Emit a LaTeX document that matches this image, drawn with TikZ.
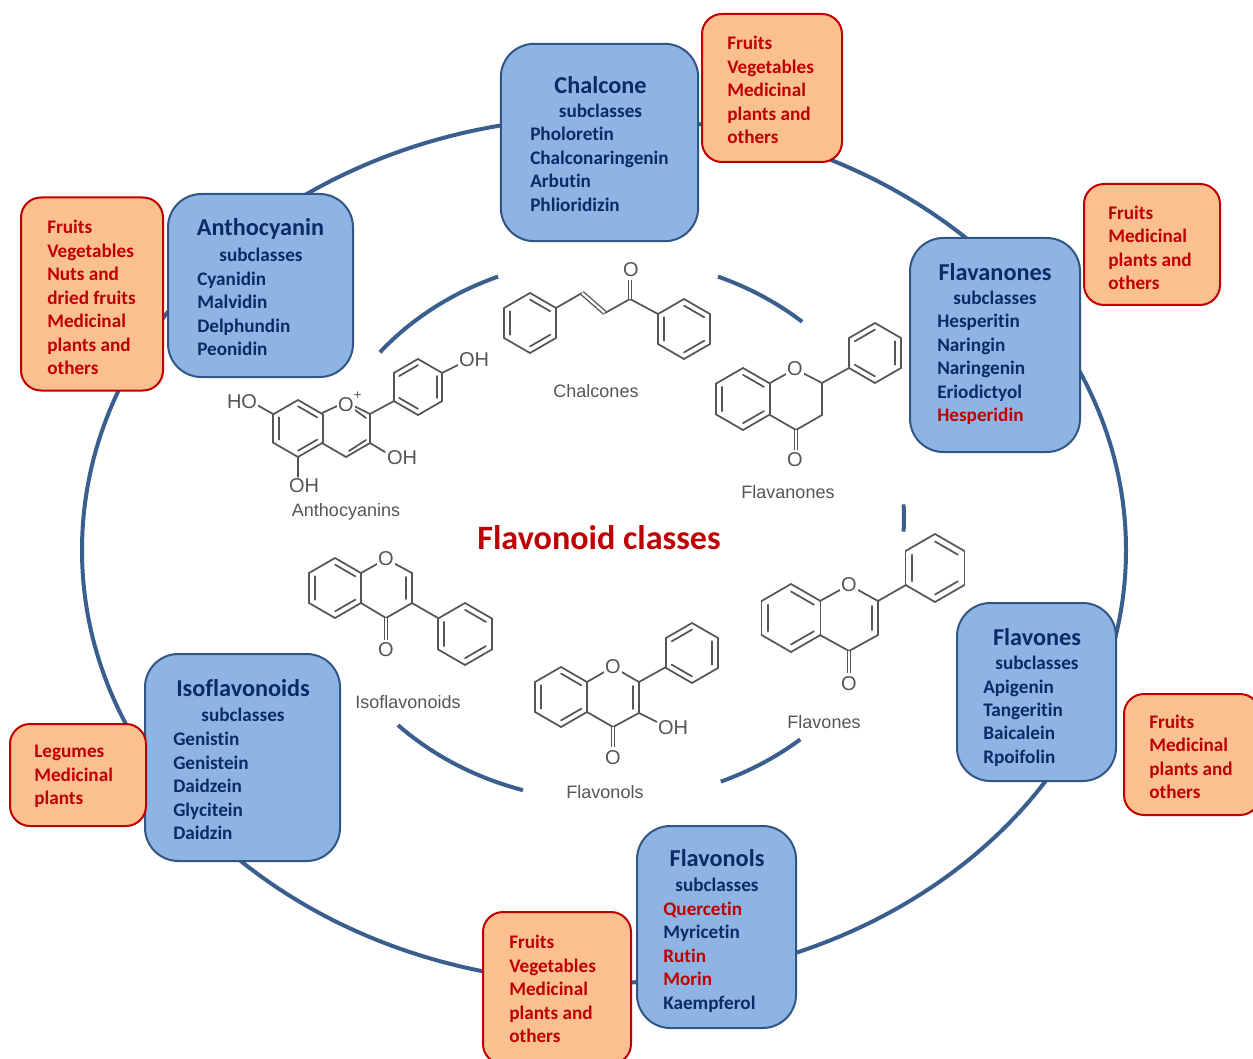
\documentclass[tikz,border=0pt]{standalone}
\usepackage{fontspec}
\setmainfont[Ligatures=NoCommon]{Carlito}
\newfontfamily\molfont{Liberation Sans}
\definecolor{ringblue}{HTML}{3A5F8F}
\definecolor{boxblue}{HTML}{8EB4E3}
\definecolor{boxedge}{HTML}{2F5685}
\definecolor{navy}{HTML}{0B2A66}
\definecolor{orangefill}{HTML}{FAC090}
\definecolor{redtxt}{HTML}{C00000}
\definecolor{molgray}{HTML}{555555}
\newcommand{\rd}[1]{\textcolor{redtxt}{#1}}
% centre x, centre y, radius, first inner edge (0 or 1)
\newcommand{\hexring}[4]{%
  \foreach \k in {0,...,5}{%
    \draw[bond] ({#1+#3*cos(30+60*\k)},{#2+#3*sin(30+60*\k)}) -- ({#1+#3*cos(90+60*\k)},{#2+#3*sin(90+60*\k)});
  }%
  \foreach \k in {0,2,4}{%
    \draw[bond] ({#1+.78*#3*cos(30+60*(\k+#4))},{#2+.78*#3*sin(30+60*(\k+#4))}) -- ({#1+.78*#3*cos(90+60*(\k+#4))},{#2+.78*#3*sin(90+60*(\k+#4))});
  }%
}
\tikzset{
  ring/.style={draw=ringblue,line width=3pt},
  bluebox/.style={draw=boxedge,fill=boxblue,line width=1.5pt,rounded corners=25pt,inner sep=0pt},
  orangebox/.style={draw=redtxt,fill=orangefill,line width=1.5pt,rounded corners=15pt,inner sep=0pt},
  boxtitle/.style={font=\fontsize{18.2}{20}\selectfont\bfseries,text=navy,inner sep=0pt},
  subtitle/.style={font=\fontsize{14.4}{16}\selectfont\bfseries,text=navy,inner sep=0pt},
  listtext/.style={font=\fontsize{14.4}{17.6}\selectfont\bfseries,text=navy,align=left,anchor=west,inner sep=0pt},
  redlist/.style={font=\fontsize{14.4}{17.6}\selectfont\bfseries,text=redtxt,align=left,anchor=west,inner sep=0pt},
  bond/.style={draw=molgray,line width=1.3pt,line cap=round},
  dbond/.style={draw=molgray,line width=1pt,double,double distance=1.7pt},
  atom/.style={font=\molfont\fontsize{15}{16}\selectfont,text=molgray,fill=white,inner sep=.6pt},
  mollabel/.style={font=\molfont\fontsize{13.5}{16}\selectfont,text=molgray,inner sep=0pt},
}
\begin{document}
\begin{tikzpicture}[x=0.75pt,y=-0.75pt]
\clip (0,0) rectangle (1253,1059);
% outer ring
\draw[ring] (604,550) ellipse [x radius=522,y radius=433];
% inner ring arcs
\draw[ring] plot[domain=-140.4:-111.8,samples=25,smooth] ({608+296*cos(\x)},{518+260*sin(\x)});
\draw[ring] plot[domain=-68.2:-49,samples=25,smooth] ({608+296*cos(\x)},{518+260*sin(\x)});
\draw[ring] plot[domain=-3:3,samples=9,smooth] ({608+296*cos(\x)},{518+260*sin(\x)});
\draw[ring] plot[domain=135.2:106.7,samples=25,smooth] ({608+296*cos(\x)},{544+257*sin(\x)});
\draw[ring] plot[domain=67.6:49.5,samples=25,smooth] ({608+296*cos(\x)},{544+257*sin(\x)});

% ---- blue boxes
\node[bluebox,minimum width=148pt,minimum height=148pt] (chalcone) at (599.5,142.5) {};
\node[boxtitle] (chalconeT) at (600.5,85) {Chalcone};
\node[subtitle] (chalconeS) at (600.5,111) {subclasses};
\node[listtext] (chalconeL) at (530,169.5) {Pholoretin\\Chalconaringenin\\Arbutin\\Phlioridizin};

\node[bluebox,minimum width=138.75pt,minimum height=137.25pt] (antho) at (260.5,285.5) {};
\node[boxtitle] (anthoT) at (260.5,229) {Anthocyanin};
\node[subtitle] (anthoS) at (261,255) {subclasses};
\node[listtext] (anthoL) at (197,314) {Cyanidin\\Malvidin\\Delphundin\\Peonidin};

\node[bluebox,minimum width=127.5pt,minimum height=160.5pt] (flavan) at (995,345) {};
\node[boxtitle] (flavanT) at (995,272) {Flavanones};
\node[subtitle] (flavanS) at (995,298) {subclasses};
\node[listtext] (flavanL) at (937,369.5) {Hesperitin\\Naringin\\Naringenin\\Eriodictyol\\\rd{Hesperidin}};

\node[bluebox,minimum width=119.25pt,minimum height=133.5pt] (flavon) at (1036.5,692) {};
\node[boxtitle] (flavonT) at (1037,637) {Flavones};
\node[subtitle] (flavonS) at (1037,663) {subclasses};
\node[listtext] (flavonL) at (983,723) {Apigenin\\Tangeritin\\Baicalein\\Rpoifolin};

\node[bluebox,minimum width=119.25pt,minimum height=151.5pt] (flavonol) at (716.5,927) {};
\node[boxtitle] (flavonolT) at (717,858) {Flavonols};
\node[subtitle] (flavonolS) at (717,885) {subclasses};
\node[listtext] (flavonolL) at (663,957) {\rd{Quercetin}\\Myricetin\\\rd{Rutin}\\\rd{Morin}\\Kaempferol};

\node[bluebox,minimum width=146.25pt,minimum height=155.25pt] (iso) at (242.5,757.5) {};
\node[boxtitle] (isoT) at (243,688) {Isoflavonoids};
\node[subtitle] (isoS) at (243,715) {subclasses};
\node[listtext] (isoL) at (173,786) {Genistin\\Genistein\\Daidzein\\Glycitein\\Daidzin};

% ---- orange boxes
\node[orangebox,minimum width=105pt,minimum height=111pt] (srcA) at (772,88) {};
\node[redlist] (srcAt) at (727,90) {Fruits\\Vegetables\\Medicinal\\plants and\\others};
\node[orangebox,minimum width=102pt,minimum height=90.75pt] (srcB) at (1152,244.5) {};
\node[redlist] (srcBt) at (1108,248) {Fruits\\Medicinal\\plants and\\others};
\node[orangebox,minimum width=102pt,minimum height=90.75pt] (srcC) at (1192,754.5) {};
\node[redlist] (srcCt) at (1149,757) {Fruits\\Medicinal\\plants and\\others};
\node[orangebox,minimum width=111pt,minimum height=114pt] (srcD) at (557,988) {};
\node[redlist] (srcDt) at (509,989) {Fruits\\Vegetables\\Medicinal\\plants and\\others};
\node[orangebox,minimum width=102pt,minimum height=76.5pt] (srcE) at (78,775) {};
\node[redlist] (srcEt) at (34,776.5) {Legumes\\Medicinal\\plants};
\node[orangebox,minimum width=106.5pt,minimum height=144.75pt] (srcF) at (92,294) {};
\node[redlist] (srcFt) at (47,297.5) {Fruits\\Vegetables\\Nuts and\\dried fruits\\Medicinal\\plants and\\others};

% ---- centre title
\node[font=\fontsize{25.6}{28}\selectfont\bfseries,text=redtxt,inner sep=0pt] (maintitle) at (599,538) {Flavonoid classes};

% ---- Chalcones
\hexring{530}{323}{30}{0}
\hexring{684}{329}{30}{0}
\draw[bond] (556,308) -- (582,293);
\draw[dbond] (582,293) -- (605,313);
\draw[bond] (605,313) -- (630,299) -- (658,314);
\draw[dbond] (630,299) -- (630,280);
\node[atom] (chO) at (631,270) {O};
\node[mollabel] (chL) at (596,391) {Chalcones};

% ---- Flavanones
\hexring{743}{399}{31}{0}
\hexring{875}{353}{30}{1}
\draw[bond] (770,383) -- (795,369) -- (822,383) -- (822,415) -- (796,430) -- (770,415);
\draw[bond] (822,383) -- (849,368);
\draw[dbond] (796,430) -- (796,450);
\node[atom] (fvO1) at (795,369) {O};
\node[atom] (fvO2) at (795,460) {O};
\node[mollabel] (fvL) at (788,492) {Flavanones};

% ---- Anthocyanins
\hexring{298}{428.5}{28.5}{0}
\hexring{418}{387}{28}{1}
\draw[bond] (322,413) -- (346,402) -- (370,414) -- (370,443) -- (346,457) -- (322,443);
\draw[bond] (351,407) -- (366,418);
\draw[bond] (349,451) -- (366,440);
\draw[bond] (370,414) -- (394,401);
\draw[bond] (370,443) -- (385,452);
\draw[bond] (442,373) -- (458,365);
\draw[bond] (273,414) -- (257,405);
\draw[bond] (298,457) -- (298,477);
\node[atom] (anO) at (346,402) {O\rlap{\raisebox{1.1ex}{\fontsize{10}{10}\selectfont +}}};
\node[atom] (anOH1) at (474,360) {OH};
\node[atom] (anOH2) at (402,458) {OH};
\node[atom] (anOH3) at (304,486) {OH};
\node[atom] (anHO) at (242,402) {HO};
\node[mollabel] (anL) at (346,512) {Anthocyanins};

% ---- Isoflavonoids
\hexring{335}{588}{30}{0}
\hexring{465}{634}{31}{0}
\draw[bond] (361,573) -- (386,559) -- (412,573) -- (412,603) -- (386,618) -- (361,603);
\draw[bond] (406,577) -- (406,599);
\draw[bond] (412,603) -- (438,618);
\draw[dbond] (386,618) -- (386,640);
\node[atom] (isO1) at (386,559) {O};
\node[atom] (isO2) at (386,650) {O};
\node[mollabel] (isL) at (408,702) {Isoflavonoids};

% ---- Flavonols
\hexring{561}{697}{30}{0}
\hexring{692}{653}{30}{1}
\draw[bond] (587,682) -- (613,667) -- (639,682) -- (639,713) -- (613,727) -- (587,712);
\draw[bond] (633,686) -- (633,709);
\draw[bond] (639,682) -- (666,667);
\draw[bond] (639,713) -- (657,722);
\draw[dbond] (613,727) -- (613,747);
\node[atom] (flO1) at (613,667) {O};
\node[atom] (flO2) at (613,758) {O};
\node[atom] (flOH) at (673,728) {OH};
\node[mollabel] (flL) at (605,792) {Flavonols};

% ---- Flavones
\hexring{791}{618}{34}{0}
\hexring{935}{568}{34}{0}
\draw[bond] (820,601) -- (849,585) -- (878,601) -- (878,635) -- (849,651) -- (820,635);
\draw[bond] (872,606) -- (872,630);
\draw[bond] (878,601) -- (906,585);
\draw[dbond] (849,651) -- (849,673);
\node[atom] (fnO1) at (849,585) {O};
\node[atom] (fnO2) at (849,684) {O};
\node[mollabel] (fnL) at (824,722) {Flavones};
\end{tikzpicture}
\end{document}
